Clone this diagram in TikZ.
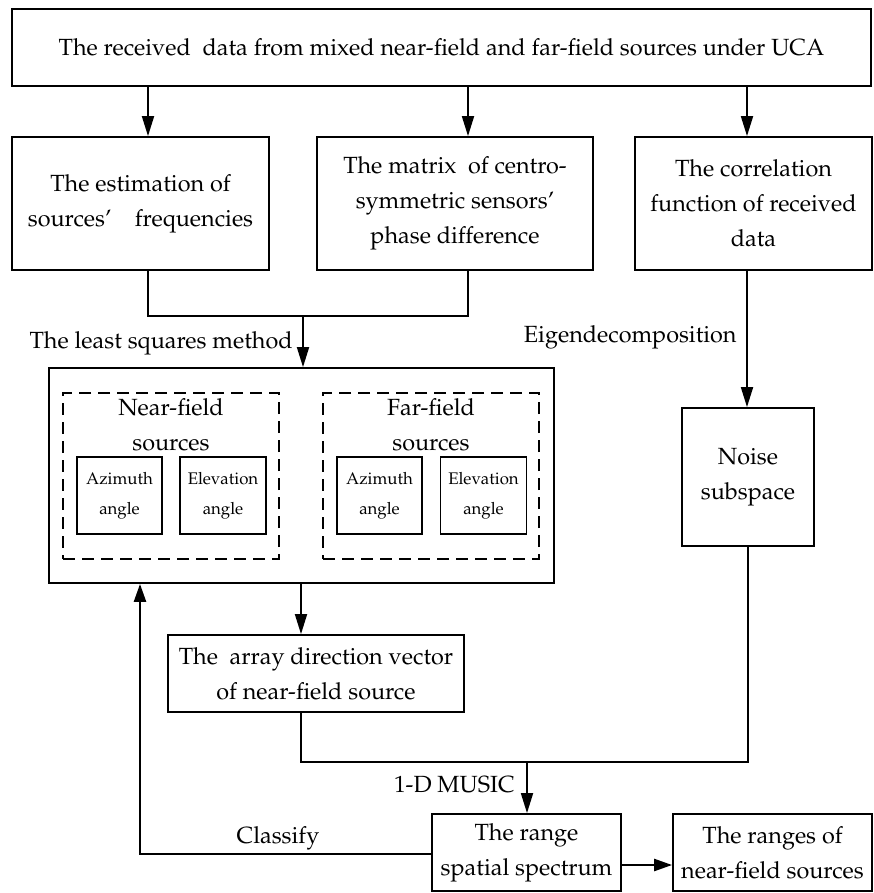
\documentclass[tikz,border=0pt]{standalone}
\usepackage[T1]{fontenc}
\renewcommand{\rmdefault}{ppl}
\usetikzlibrary{arrows.meta}
\newcommand{\mainf}{\fontsize{11.7}{17.5}\selectfont}
\newcommand{\smallf}{\fontsize{8.4}{15}\selectfont}
\tikzset{
  box/.style={draw, line width=0.9pt, align=center, inner sep=0pt, font=\mainf},
  smallbox/.style={draw, line width=0.8pt, align=center, inner sep=0pt, font=\smallf,
    minimum height=38.5pt},
  dashbox/.style={draw, line width=0.8pt, dash pattern=on 6pt off 3.5pt, inner sep=0pt,
    minimum width=108pt, minimum height=83pt},
  lbl/.style={font=\mainf, inner sep=0pt, align=center},
  conn/.style={line width=0.9pt},
  arr/.style={line width=0.9pt, -{Triangle[length=10pt,width=6pt]}},
  thickarr/.style={line width=1.2pt, -{Triangle[length=9pt,width=6pt]}},
}
\begin{document}
\begin{tikzpicture}[x=0.5pt,y=-0.5pt]
\useasboundingbox (0,0) rectangle (873,893);
% boxes
\node[box, minimum width=429.5pt, minimum height=38.5pt] (top) at (441.5,47.5)
  {The received\ \ data from mixed near-field and far-field sources under UCA};
\node[box, minimum width=128.5pt, minimum height=66.5pt] (b1) at (140.5,203.5)
  {The estimation of\\sources'\quad frequencies};
\node[box, minimum width=138pt, minimum height=66.5pt] (b2) at (455,203.5)
  {The matrix\ \ of centro-\\symmetric sensors'\\ phase difference};
\node[box, minimum width=118.5pt, minimum height=66.5pt] (b3) at (753.5,203.5)
  {The correlation\\function of received\\data};
\node[box, minimum width=66pt, minimum height=69pt] (noise) at (748,477)
  {Noise\\subspace};
\node[box, minimum width=252.5pt, minimum height=107.5pt] (big) at (301.5,475.5) {};
\node[dashbox] (dl) at (171,476) {};
\node[dashbox] (dr) at (431,476) {};
\node[lbl] (nf) at (171,425) {Near-field\\sources};
\node[lbl] (ff) at (431,425) {Far-field\\sources};
\node[smallbox, minimum width=42.5pt] (azl) at (119.5,495.5) {Azimuth\\angle};
\node[smallbox, minimum width=43pt] (ell) at (223,495.5) {Elevation\\angle};
\node[smallbox, minimum width=42.5pt] (azr) at (379.5,495.5) {Azimuth\\angle};
\node[smallbox, minimum width=43pt] (elr) at (483.5,495.5) {Elevation\\angle};
\node[box, minimum width=148pt, minimum height=38.5pt] (array) at (316,673.5)
  {The\ \ array direction vector\\of near-field source};
\node[box, minimum width=94.5pt, minimum height=38.5pt] (range) at (526.5,852.5)
  {The range\\spatial spectrum};
\node[box, minimum width=99.5pt, minimum height=38.5pt] (ranges) at (772.5,852.5)
  {The ranges of\\near-field sources};
% labels
\node[lbl, anchor=base east] (lsq) at (293,348) {The least squares method};
\node[lbl, anchor=base east] (eig) at (737,342) {Eigendecomposition};
\node[lbl, anchor=base east] (mus) at (515,792) {1-D MUSIC};
\node[lbl, anchor=base] (cls) at (278,843) {Classify};
% helper coordinates
\coordinate (xa) at (148,0);
\coordinate (xb) at (468,0);
\coordinate (xc) at (747,0);
\coordinate (xd) at (301,0);
\coordinate (xf) at (140,0);
\coordinate (jn) at (303,316);
\coordinate (jb) at (527,762);
\coordinate (yc) at (0,854);
\coordinate (yr) at (0,865);
% connectors
\draw[arr] (top.south -| xa) -- (b1.north -| xa);
\draw[arr] (top.south -| xb) -- (b2.north -| xb);
\draw[arr] (top.south -| xc) -- (b3.north -| xc);
\draw[conn] (b1.south -| xa) |- (jn) -| (b2.south -| xb);
\draw[arr] (jn) -- (big.north -| jn);
\draw[arr] (b3.south -| xc) -- (noise.north -| xc);
\draw[arr] (big.south -| xd) -- (array.north -| xd);
\draw[conn] (array.south -| xd) |- (jb) -| (noise.south);
\draw[arr] (jb) -- (range.north -| jb);
\draw[thickarr] (range.west |- yc) -| (big.south -| xf);
\draw[thickarr] (range.east |- yr) -- (ranges.west |- yr);
\end{tikzpicture}
\end{document}
